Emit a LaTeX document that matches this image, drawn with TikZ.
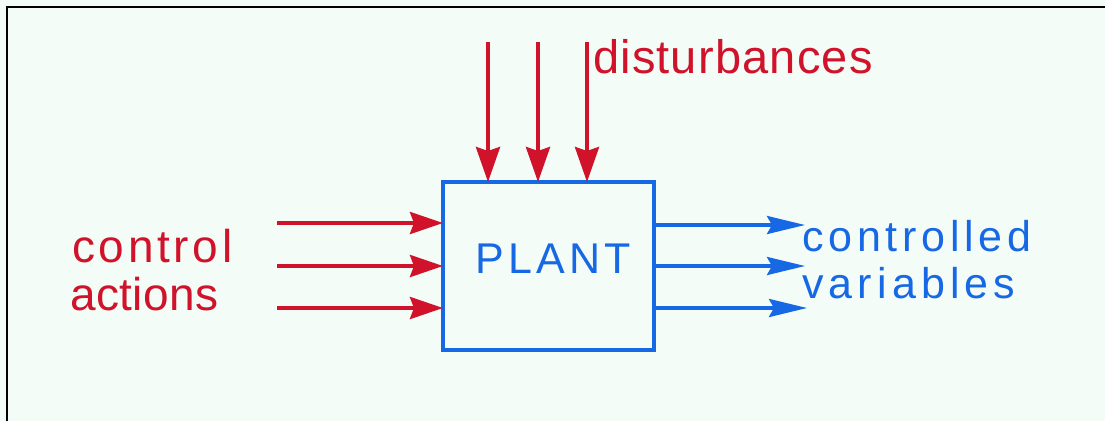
\documentclass[tikz,border=0pt]{standalone}
\usepackage{fontspec}
\setmainfont{Liberation Sans}
\usetikzlibrary{arrows.meta}
\definecolor{inkred}{RGB}{208,18,42}
\definecolor{inkblue}{RGB}{22,104,228}
\definecolor{paper}{RGB}{243,252,247}
\tikzset{
  redarrow/.style={draw=inkred, line width=4pt, -{Stealth[length=33pt,width=22pt,inset=4pt]}},
  disarrow/.style={draw=inkred, line width=4pt, -{Stealth[length=35pt,width=24pt,inset=4pt]}},
  bluearrow/.style={draw=inkblue, line width=3.5pt, -{Stealth[length=38pt,width=18pt,inset=5pt]}},
  redtext/.style={inkred, inner sep=0pt, anchor=base west},
  bluetext/.style={inkblue, inner sep=0pt, anchor=base west},
  plantbox/.style={draw=inkblue, line width=4pt, minimum width=211pt, minimum height=168pt, inner sep=0pt, outer sep=0pt},
}
\begin{document}
\begin{tikzpicture}[x=1pt,y=-1pt]
\fill[paper] (0,0) rectangle (1105,421);
\useasboundingbox (0,0) rectangle (1105,421);
\draw[black, line width=2pt] (7,421) -- (7,7) -- (1105,7);

\node[plantbox] (plant) at (548.5,266) {};
\node[inkblue, inner sep=0pt, anchor=base] (plantlabel) at (553,273)
  {\fontsize{43}{48}\selectfont\addfontfeatures{LetterSpace=10}PLANT};

% disturbances
\coordinate (d1) at (488,42);
\coordinate (d2) at (538,42);
\coordinate (d3) at (587,42);
\draw[disarrow] (d1) -- (d1 |- plant.north);
\draw[disarrow] (d2) -- (d2 |- plant.north);
\draw[disarrow] (d3) -- (d3 |- plant.north);
\node[redtext] (dist) at (593,73)
  {\fontsize{47}{52}\selectfont\addfontfeatures{LetterSpace=2.5}disturbances};

% control actions
\coordinate (c1) at (277,223);
\coordinate (c2) at (277,266);
\coordinate (c3) at (277,308);
\draw[redarrow] (c1) -- (c1 -| plant.west);
\draw[redarrow] (c2) -- (c2 -| plant.west);
\draw[redarrow] (c3) -- (c3 -| plant.west);
\node[redtext] (ctrl) at (72,262)
  {\fontsize{46}{50}\selectfont\addfontfeatures{LetterSpace=8}control};
\node[redtext] (act) at (70,310)
  {\fontsize{46}{50}\selectfont\addfontfeatures{LetterSpace=1}actions};

% controlled variables
\coordinate (o1) at (805,225);
\coordinate (o2) at (805,266);
\coordinate (o3) at (807,308);
\draw[bluearrow] (o1 -| plant.east) -- (o1);
\draw[bluearrow] (o2 -| plant.east) -- (o2);
\draw[bluearrow] (o3 -| plant.east) -- (o3);
\node[bluetext] (cv1) at (802,251)
  {\fontsize{43}{48}\selectfont\addfontfeatures{LetterSpace=11}controlled};
\node[bluetext] (cv2) at (802,298)
  {\fontsize{43}{48}\selectfont\addfontfeatures{LetterSpace=12}variables};
\end{tikzpicture}
\end{document}
